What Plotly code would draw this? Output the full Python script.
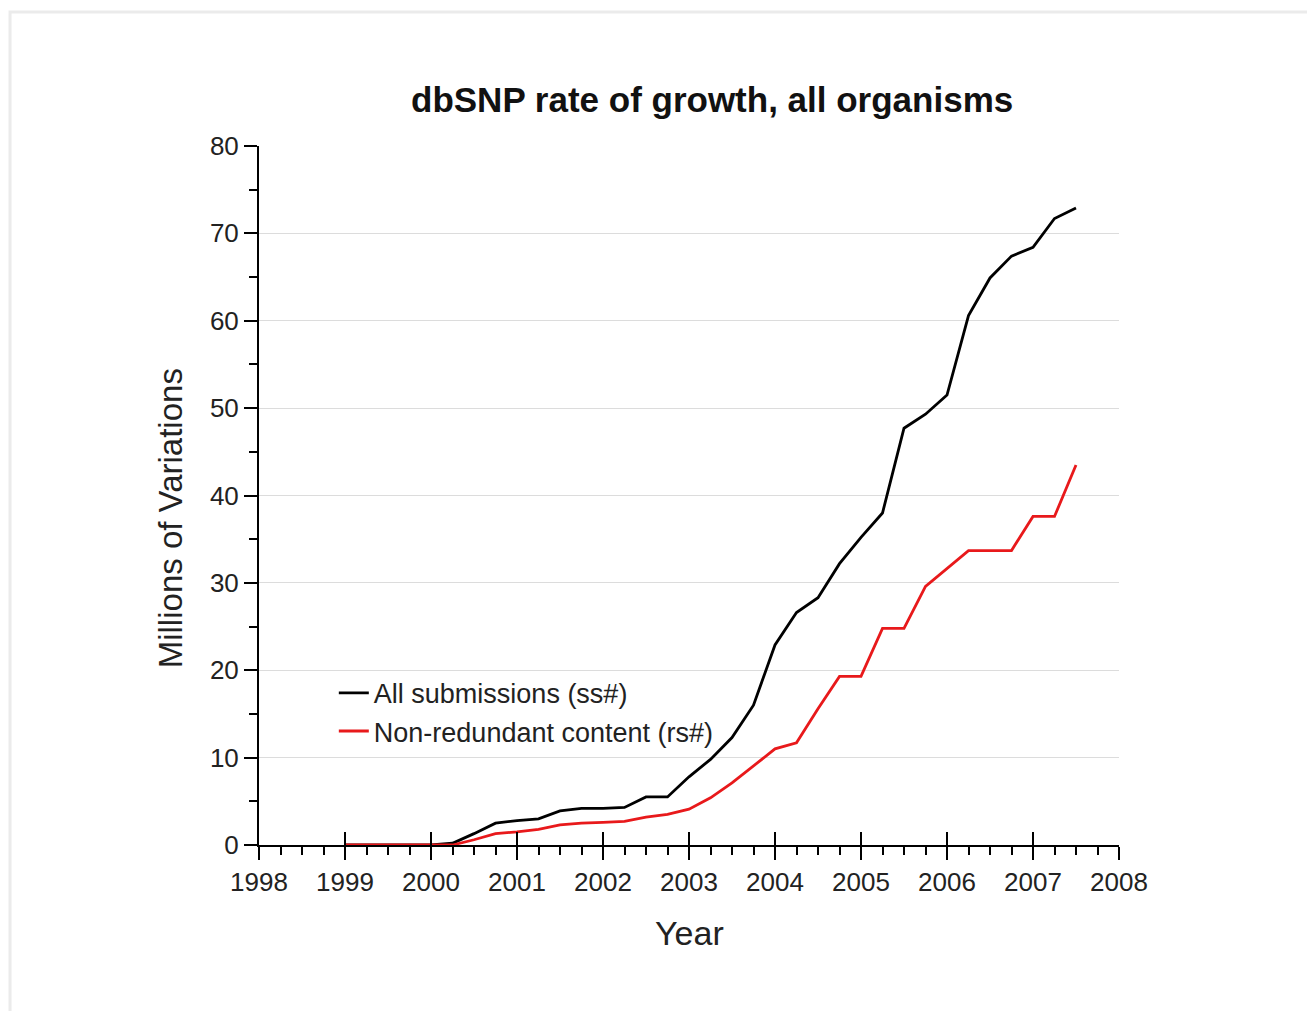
import plotly.graph_objects as go

years = [1999.0, 1999.25, 1999.5, 1999.75, 2000.0, 2000.25, 2000.5, 2000.75,
         2001.0, 2001.25, 2001.5, 2001.75, 2002.0, 2002.25, 2002.5, 2002.75,
         2003.0, 2003.25, 2003.5, 2003.75, 2004.0, 2004.25, 2004.5, 2004.75,
         2005.0, 2005.25, 2005.5, 2005.75, 2006.0, 2006.25, 2006.5, 2006.75,
         2007.0, 2007.25, 2007.5]

all_submissions = [0.0, 0.0, 0.0, 0.0, 0.0, 0.2, 1.3, 2.5,
                   2.8, 3.0, 3.9, 4.2, 4.2, 4.3, 5.5, 5.5,
                   7.8, 9.8, 12.3, 16.0, 22.9, 26.6, 28.3, 32.2,
                   35.2, 38.0, 47.7, 49.3, 51.5, 60.6, 64.9, 67.4,
                   68.4, 71.7, 72.9]

non_redundant = [0.0, 0.0, 0.0, 0.0, 0.0, 0.0, 0.6, 1.3,
                 1.5, 1.8, 2.3, 2.5, 2.6, 2.7, 3.2, 3.5,
                 4.1, 5.4, 7.1, 9.1, 11.0, 11.7, 15.6, 19.3,
                 19.3, 24.8, 24.8, 29.6, 31.7, 33.7, 33.7, 33.7,
                 37.6, 37.6, 43.5]

series_names = ["All submissions (ss#)", "Non-redundant content (rs#)"]
x_ticks = list(range(1998, 2009))
y_ticks = list(range(0, 81, 10))
grid_vals = list(range(10, 80, 10))

FONT = "Arial, 'Liberation Sans', sans-serif"

fig = go.Figure()
fig.add_trace(go.Scatter(x=years, y=all_submissions, mode="lines", name=series_names[0],
                         line=dict(color="black", width=2.8)))
fig.add_trace(go.Scatter(x=years, y=non_redundant, mode="lines", name=series_names[1],
                         line=dict(color="#e8191b", width=2.8)))

fig.update_layout(
    width=1315, height=1011,
    margin=dict(l=251, r=204, t=138, b=174),
    paper_bgcolor="white", plot_bgcolor="white",
    font=dict(family=FONT, color="#222222"),
    showlegend=True,
    legend=dict(x=0.087, y=0.252, xanchor="left", yanchor="top",
                bgcolor="rgba(0,0,0,0)", font=dict(size=27, family=FONT, color="#222222"),
                tracegroupgap=0, itemwidth=30),
    xaxis=dict(range=[1998, 2008], tickvals=x_ticks, ticktext=[str(v) for v in x_ticks],
               showline=True, linecolor="black", linewidth=2,
               ticks="outside", ticklen=13, tickwidth=2, tickcolor="black",
               minor=dict(dtick=0.25, ticks="outside", ticklen=8, tickwidth=2, tickcolor="black"),
               showgrid=False, zeroline=False,
               tickfont=dict(size=26, family=FONT, color="#222222")),
    xaxis2=dict(range=[1998, 2008], overlaying="x", side="bottom", tickvals=x_ticks,
                ticks="inside", ticklen=13, tickwidth=2, tickcolor="black",
                showticklabels=False, showgrid=False, zeroline=False, showline=False),
    yaxis=dict(range=[0, 80], tickvals=y_ticks,
               showline=True, linecolor="black", linewidth=2,
               ticks="outside", ticklen=13, tickwidth=2, tickcolor="black",
               minor=dict(dtick=5, ticks="outside", ticklen=8, tickwidth=2, tickcolor="black"),
               showgrid=False, zeroline=False,
               tickfont=dict(size=26, family=FONT, color="#222222")),
    yaxis2=dict(range=[0, 80], overlaying="y", tickvals=grid_vals, showgrid=True,
                gridcolor="#dcdcdc", gridwidth=1, showticklabels=False, ticks="",
                zeroline=False, showline=False),
    annotations=[
        dict(text="<b>dbSNP rate of growth, all organisms</b>", xref="paper", yref="paper",
             x=0.527, y=1.066, xanchor="center", yanchor="middle", showarrow=False,
             font=dict(size=35, family=FONT, color="#111111")),
        dict(text="Year", xref="paper", yref="paper", x=0.501, y=-0.126,
             xanchor="center", yanchor="middle", showarrow=False,
             font=dict(size=34, family=FONT, color="#222222")),
        dict(text="Millions of Variations", xref="paper", yref="paper", x=-0.103, y=0.468,
             xanchor="center", yanchor="middle", textangle=-90, showarrow=False,
             font=dict(size=33, family=FONT, color="#222222")),
    ],
    shapes=[
        dict(type="rect", xref="paper", yref="paper", x0=-0.2895, x1=1.25, y0=-0.3, y1=1.1917,
             line=dict(color="#ebebeb", width=3), layer="below"),
    ],
)
# invisible trace to activate the overlay axes (crossing ticks and gridlines)
fig.add_trace(go.Scatter(x=[1998], y=[0], xaxis="x2", yaxis="y2", mode="markers",
                         marker=dict(opacity=0), showlegend=False, hoverinfo="skip"))

fig.write_html("out.html")
